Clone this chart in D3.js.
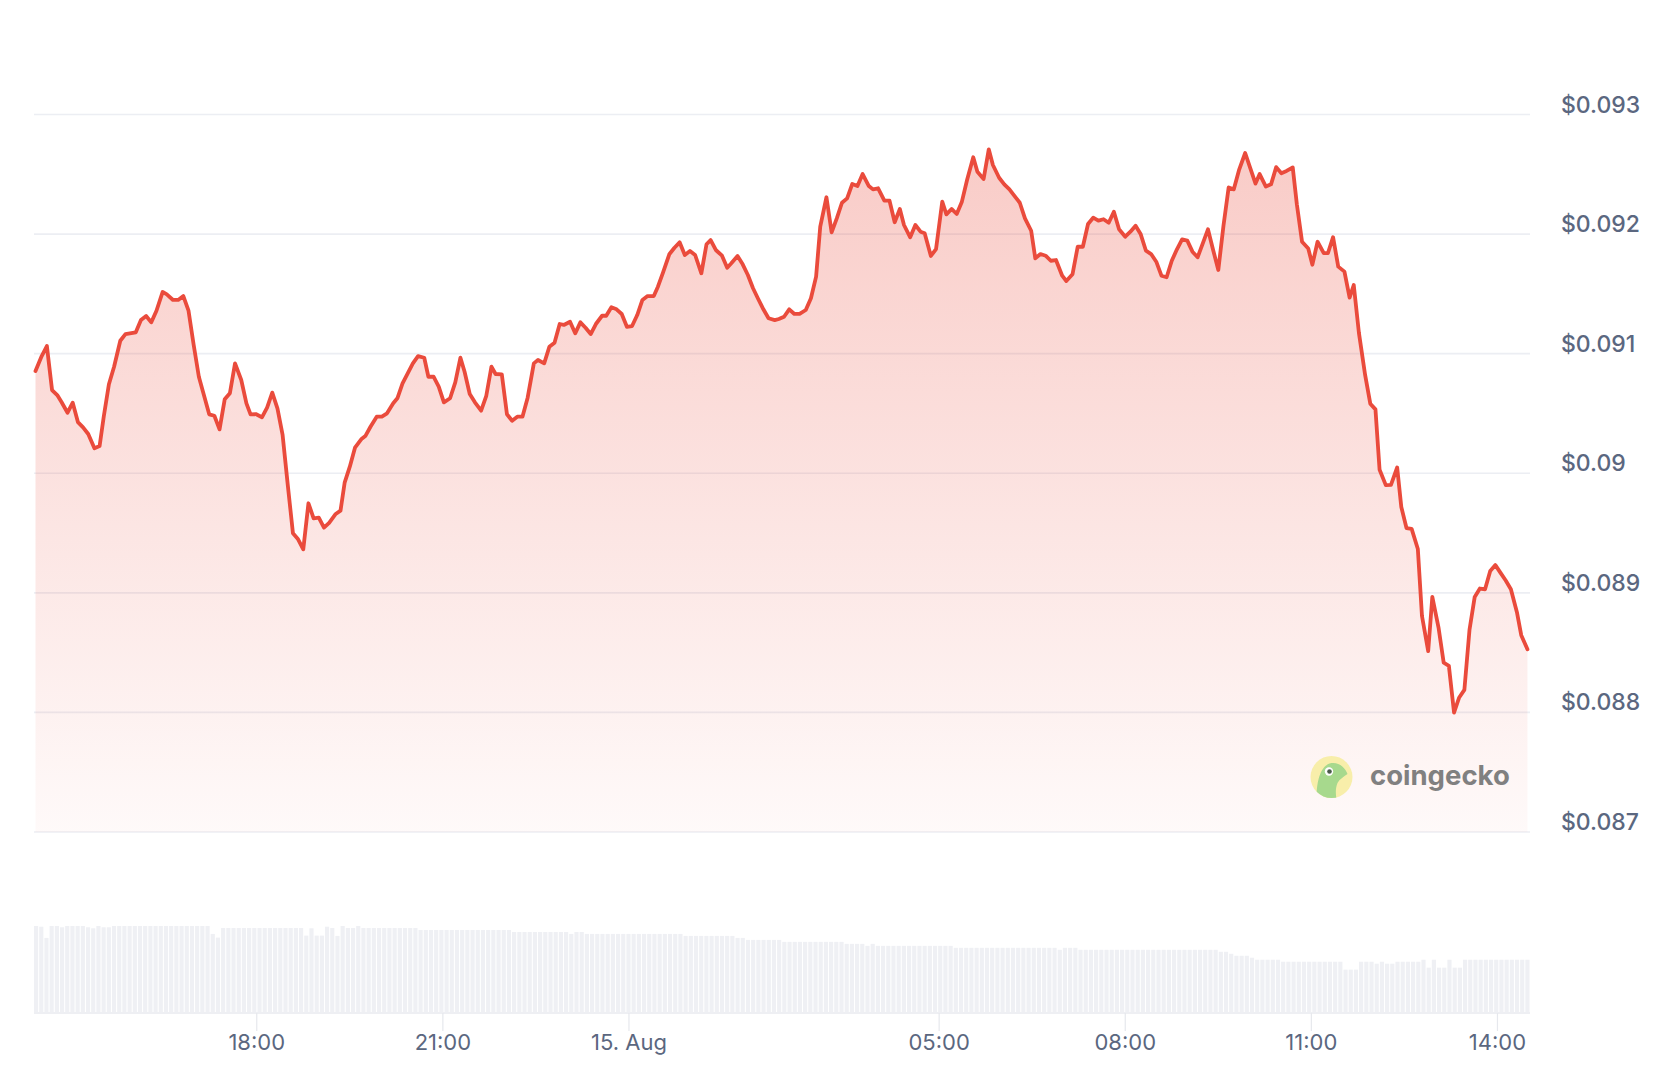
<!DOCTYPE html>
<html>
<head>
<meta charset="utf-8">
<script src="https://cdn.jsdelivr.net/npm/d3@7"></script>
<style>
  html, body { margin: 0; padding: 0; background: #ffffff; }
  svg { display: block; }
</style>
</head>
<body>
<svg id="chart" width="1674" height="1080"></svg>
<script>
// ---------------- DATA ----------------
const startTime = "2024-08-14T14:26:00";
// minutes after startTime of each price point
const minutes = [0,6,11,16,21,25,31,36,41,46,51,57,62,66,71,76,82,87,97,102,107,112,117,123,127,133,138,143,148,153,158,162,168,173,178,183,188,193,199,204,208,213,219,224,229,234,239,244,249,254,259,264,269,274,279,284,290,295,299,304,309,315,319,324,330,335,340,346,350,355,360,365,370,376,380,385,390,395,401,406,411,415,420,425,431,436,441,445,451,456,461,466,471,476,482,486,492,497,502,507,511,517,522,527,532,537,542,548,552,557,562,567,572,577,582,587,592,598,602,607,613,618,623,628,633,638,644,649,653,658,664,669,673,679,684,689,694,699,704,709,715,719,724,729,734,739,745,750,755,759,765,770,775,780,785,790,795,800,806,810,815,821,826,831,836,840,846,851,856,860,866,871,877,881,886,891,896,901,907,911,917,922,926,932,937,942,947,952,957,963,967,972,977,982,987,993,997,1003,1008,1013,1018,1023,1028,1033,1038,1043,1048,1054,1059,1064,1069,1074,1079,1084,1089,1094,1099,1104,1109,1114,1119,1124,1129,1134,1139,1144,1149,1154,1159,1164,1170,1175,1180,1184,1190,1195,1200,1205,1210,1216,1220,1225,1231,1235,1240,1246,1250,1255,1260,1266,1271,1275,1280,1286,1291,1296,1300,1306,1311,1317,1321,1326,1331,1337,1341,1347,1351,1357,1362,1367,1372,1377,1382,1387,1392,1397,1402,1407,1412,1417,1422,1427,1433,1437,1443];
const prices = [0.090855,0.090980,0.091064,0.090696,0.090654,0.090598,0.090506,0.090590,0.090428,0.090384,0.090328,0.090209,0.090228,0.090473,0.090744,0.090891,0.091108,0.091164,0.091179,0.091281,0.091315,0.091262,0.091359,0.091516,0.091496,0.091449,0.091449,0.091482,0.091359,0.091072,0.090807,0.090682,0.090493,0.090481,0.090367,0.090618,0.090669,0.090919,0.090780,0.090585,0.090493,0.090495,0.090468,0.090548,0.090674,0.090543,0.090320,0.089902,0.089498,0.089448,0.089364,0.089749,0.089623,0.089628,0.089545,0.089586,0.089657,0.089687,0.089921,0.090055,0.090214,0.090284,0.090311,0.090389,0.090473,0.090473,0.090501,0.090585,0.090627,0.090752,0.090836,0.090919,0.090980,0.090966,0.090807,0.090807,0.090724,0.090593,0.090627,0.090760,0.090966,0.090849,0.090663,0.090593,0.090523,0.090648,0.090891,0.090830,0.090827,0.090493,0.090439,0.090473,0.090473,0.090632,0.090919,0.090947,0.090919,0.091058,0.091092,0.091248,0.091240,0.091267,0.091170,0.091262,0.091217,0.091164,0.091248,0.091317,0.091317,0.091388,0.091371,0.091332,0.091225,0.091231,0.091323,0.091449,0.091482,0.091482,0.091560,0.091680,0.091831,0.091886,0.091931,0.091825,0.091858,0.091825,0.091672,0.091915,0.091950,0.091867,0.091819,0.091719,0.091756,0.091817,0.091747,0.091658,0.091547,0.091457,0.091371,0.091296,0.091281,0.091290,0.091309,0.091371,0.091332,0.091332,0.091365,0.091463,0.091644,0.092062,0.092308,0.092015,0.092132,0.092262,0.092299,0.092419,0.092402,0.092502,0.092402,0.092374,0.092383,0.092279,0.092279,0.092099,0.092210,0.092076,0.091973,0.092076,0.092020,0.092007,0.091817,0.091875,0.092271,0.092165,0.092210,0.092168,0.092271,0.092452,0.092642,0.092522,0.092461,0.092709,0.092578,0.092471,0.092416,0.092374,0.092318,0.092262,0.092132,0.092028,0.091797,0.091833,0.091819,0.091777,0.091783,0.091652,0.091608,0.091664,0.091894,0.091894,0.092084,0.092137,0.092112,0.092124,0.092095,0.092187,0.092040,0.091978,0.092020,0.092070,0.091998,0.091861,0.091833,0.091769,0.091652,0.091639,0.091777,0.091873,0.091956,0.091945,0.091853,0.091806,0.091923,0.092040,0.091867,0.091700,0.092070,0.092390,0.092374,0.092534,0.092678,0.092550,0.092422,0.092502,0.092397,0.092416,0.092560,0.092509,0.092528,0.092557,0.092247,0.091936,0.091879,0.091744,0.091936,0.091840,0.091840,0.091974,0.091728,0.091686,0.091469,0.091574,0.091174,0.090822,0.090582,0.090534,0.090029,0.089901,0.089903,0.090048,0.089718,0.089542,0.089535,0.089366,0.088806,0.088512,0.088966,0.088710,0.088416,0.088390,0.087999,0.088125,0.088188,0.088694,0.088966,0.089036,0.089030,0.089183,0.089232,0.089167,0.089103,0.089030,0.088831,0.088646,0.088528];

// volume bars (relative units), one per bar, left to right
const volumes = [86.7,86.0,74.7,86.7,86.7,85.4,86.7,86.7,86.7,86.7,85.4,84.4,86.7,85.4,85.4,
86.7,86.7,86.7,86.7,86.7,86.7,86.7,86.7,86.7,86.7,86.7,86.7,86.7,86.7,86.7,86.7,86.7,86.7,86.7,
78.7,75.0,
84.7,84.7,84.7,84.7,84.7,84.7,84.7,84.7,84.7,84.7,84.7,84.7,84.7,84.7,84.7,84.7,
77.0,84.4,77.0,77.0,86.0,84.7,76.7,86.7,84.7,84.7,86.7,
84.7,84.7,84.7,84.7,84.7,84.7,84.7,84.7,84.7,84.7,84.7,
82.7,82.7,82.7,82.7,82.7,82.7,82.7,82.7,82.7,82.7,82.7,82.7,82.7,82.7,82.7,82.7,82.7,82.7,
80.7,80.7,80.7,80.7,80.7,80.7,80.7,80.7,80.7,80.7,80.7,
78.7,80.7,80.7,
78.7,78.7,78.7,78.7,78.7,78.7,78.7,78.7,78.7,78.7,78.7,78.7,78.7,78.7,78.7,78.7,78.7,78.7,78.7,
76.7,76.7,76.7,76.7,76.7,76.7,76.7,76.7,76.7,76.7,
74.7,74.7,
72.7,72.7,72.7,72.7,72.7,72.7,72.7,
70.7,70.7,70.7,70.7,70.7,70.7,70.7,70.7,70.7,70.7,70.7,70.7,
68.7,68.7,68.7,68.7,
66.7,68.7,
66.7,66.7,66.7,66.7,66.7,66.7,66.7,66.7,66.7,66.7,66.7,66.7,66.7,66.7,66.7,
64.7,64.7,64.7,64.7,64.7,64.7,64.7,64.7,64.7,64.7,64.7,64.7,64.7,64.7,64.7,64.7,64.7,64.7,64.7,64.7,
62.7,64.7,64.7,64.7,
62.7,62.7,62.7,62.7,62.7,62.7,62.7,62.7,62.7,62.7,62.7,62.7,62.7,62.7,62.7,62.7,62.7,62.7,62.7,62.7,62.7,62.7,62.7,62.7,62.7,62.7,62.7,
60.7,60.7,58.7,56.7,56.7,56.7,54.7,
52.7,52.7,52.7,52.7,52.7,
50.7,50.7,50.7,50.7,50.7,50.7,50.7,50.7,50.7,50.7,50.7,50.7,
42.7,42.7,42.7,
50.7,50.7,50.7,48.7,50.7,48.7,48.7,
50.7,50.7,50.7,50.7,50.7,
52.7,44.7,52.7,44.7,44.7,52.7,44.7,44.7,
52.7,52.7,52.7,52.7,52.7,52.7,52.7,52.7,52.7,52.7,52.7,52.7,52.7];

const yTickValues = [0.093, 0.092, 0.091, 0.090, 0.089, 0.088, 0.087];
const yTickLabels = ["$0.093", "$0.092", "$0.091", "$0.09", "$0.089", "$0.088", "$0.087"];
const xTickTimes = ["2024-08-14T18:00:00", "2024-08-14T21:00:00", "2024-08-15T00:00:00", "2024-08-15T05:00:00", "2024-08-15T08:00:00", "2024-08-15T11:00:00", "2024-08-15T14:00:00"];
const xTickLabels = ["18:00", "21:00", "15. Aug", "05:00", "08:00", "11:00", "14:00"];

// ---------------- CHART ----------------
const svg = d3.select("#chart");
const t0 = new Date(startTime);
const points = minutes.map((m, i) => ({ t: new Date(t0.getTime() + m * 60000), p: prices[i] }));

const x = d3.scaleTime()
  .domain([t0, new Date(t0.getTime() + 1440 * 60000)])
  .range([35.5, 35.5 + 1440 * 1.033917]);
const y = d3.scaleLinear().domain([0.087, 0.093]).range([832, 114.5]);

const gridLeft = 34, gridRight = 1530;

// gradient
const defs = svg.append("defs");
const grad = defs.append("linearGradient")
  .attr("id", "areaGrad").attr("gradientUnits", "userSpaceOnUse")
  .attr("x1", 0).attr("y1", y(0.093)).attr("x2", 0).attr("y2", y(0.087));
grad.append("stop").attr("offset", 0).attr("stop-color", "#ea4b3c").attr("stop-opacity", 0.30);
grad.append("stop").attr("offset", 0.55).attr("stop-color", "#ea4b3c").attr("stop-opacity", 0.15);
grad.append("stop").attr("offset", 1).attr("stop-color", "#ea4b3c").attr("stop-opacity", 0.03);

// grid lines
svg.append("g").selectAll("line").data(yTickValues).join("line")
  .attr("x1", gridLeft).attr("x2", gridRight)
  .attr("y1", d => y(d)).attr("y2", d => y(d))
  .attr("stroke", "#eceef3").attr("stroke-width", 1.6);

// y labels
svg.append("g").selectAll("text").data(yTickValues).join("text")
  .attr("x", 1561).attr("y", d => y(d) - 2)
  .attr("font-family", "Inter, 'Noto Sans', sans-serif")
  .attr("font-size", 23).attr("font-weight", 500)
  .attr("fill", "#5b6780")
  .text((d, i) => yTickLabels[i]);

// area + line
const area = d3.area().x(d => x(d.t)).y0(y(0.087)).y1(d => y(d.p));
const line = d3.line().x(d => x(d.t)).y(d => y(d.p));
svg.append("path").datum(points).attr("d", area).attr("fill", "url(#areaGrad)");
svg.append("path").datum(points).attr("d", line)
  .attr("fill", "none").attr("stroke", "#ea4b3c").attr("stroke-width", 3.8)
  .attr("stroke-linejoin", "round").attr("stroke-linecap", "round");

// volume bars
const xb = d3.scaleBand().domain(d3.range(volumes.length)).range([34, 1529.5]).paddingInner(0.2).paddingOuter(0);
const yv = d3.scaleLinear().domain([0, d3.max(volumes)]).range([1012, 926]);
svg.append("g").selectAll("rect").data(volumes).join("rect")
  .attr("x", (d, i) => xb(i)).attr("width", xb.bandwidth())
  .attr("y", d => yv(d)).attr("height", d => yv(0) - yv(d))
  .attr("fill", "#eff0f4");

// x axis baseline + ticks
svg.append("line").attr("x1", gridLeft).attr("x2", gridRight).attr("y1", 1013).attr("y2", 1013)
  .attr("stroke", "#e8eaef").attr("stroke-width", 1.5);
const xTicks = xTickTimes.map(s => new Date(s));
svg.append("g").selectAll("line").data(xTicks).join("line")
  .attr("x1", d => x(d)).attr("x2", d => x(d)).attr("y1", 1013).attr("y2", 1031)
  .attr("stroke", "#e6e8ed").attr("stroke-width", 1.2);
svg.append("g").selectAll("text").data(xTicks).join("text")
  .attr("x", d => x(d)).attr("y", 1050)
  .attr("text-anchor", "middle")
  .attr("font-family", "Inter, 'Noto Sans', sans-serif")
  .attr("font-size", 22).attr("font-weight", 400)
  .attr("fill", "#5b6780")
  .text((d, i) => xTickLabels[i]);

// coingecko watermark
const logo = svg.append("g").attr("transform", "translate(1331.5,777)");
defs.append("clipPath").attr("id", "logoClip").append("circle").attr("r", 21);
logo.append("circle").attr("r", 21).attr("fill", "#f8eeaa");
logo.append("path").attr("clip-path", "url(#logoClip)")
  .attr("d", "M-15,22 C-15,4 -11,-12 0,-14 C8,-15 14,-9 16,-3 C12,0 8,2 6,6 C4,11 4,16 5,22 Z")
  .attr("fill", "#a7d98d");
logo.append("circle").attr("cx", -2.5).attr("cy", -5.5).attr("r", 4.2).attr("fill", "#ffffff");
logo.append("circle").attr("cx", -2).attr("cy", -5.5).attr("r", 2.3).attr("fill", "#4a5a4a");
svg.append("text").attr("x", 1370).attr("y", 785)
  .attr("font-family", "Inter, 'Noto Sans', sans-serif")
  .attr("font-size", 27.5).attr("font-weight", 700)
  .attr("fill", "#808080")
  .text("coingecko");
</script>
</body>
</html>
